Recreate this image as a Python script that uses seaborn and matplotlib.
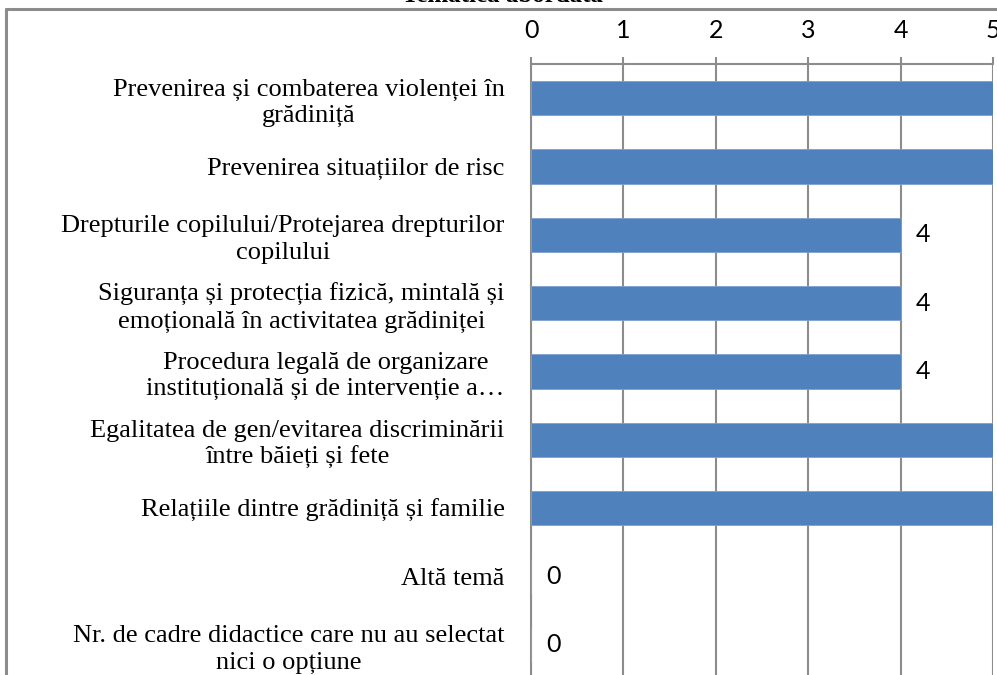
import matplotlib
matplotlib.use("Agg")
import matplotlib.pyplot as plt
import seaborn as sns
import pandas as pd
import numpy as np

categories = [
    "Prevenirea și combaterea violenței în\ngrădiniță",
    "Prevenirea situațiilor de risc",
    "Drepturile copilului/Protejarea drepturilor\ncopilului",
    "Siguranța și protecția fizică, mintală și\nemoțională în activitatea grădiniței",
    "Procedura legală de organizare\ninstituțională și de intervenție a…",
    "Egalitatea de gen/evitarea discriminării\nîntre băieți și fete",
    "Relațiile dintre grădiniță și familie",
    "Altă temă",
    "Nr. de cadre didactice care nu au selectat\nnici o opțiune",
]
values = [5, 5, 4, 4, 4, 5, 5, 0, 0]
x_ticks = [0, 1, 2, 3, 4, 5]
title = "Tematica abordată"

sns.set_style("white")
plt.rcParams["font.family"] = ["Liberation Serif", "DejaVu Serif"]
plt.rcParams["text.color"] = "black"
plt.rcParams["xtick.labelcolor"] = "black"
plt.rcParams["ytick.labelcolor"] = "black"

df = pd.DataFrame({"tema": categories, "nr": values})

W, H = 997, 675
fig = plt.figure(figsize=(W / 100, H / 100), dpi=100)

ax_l, ax_r, ax_t, ax_b = 531, 993, 64, 679
ax = fig.add_axes([ax_l / W, 1 - ax_b / H, (ax_r - ax_l) / W, (ax_b - ax_t) / H])

sns.barplot(data=df, y="tema", x="nr", orient="h", color="#4F81BD",
            width=0.5, saturation=1, ax=ax, edgecolor="#7EA1CF", linewidth=0.6,
            zorder=3)

grid_c = "#8C8C8C"
ax.set_xlim(0, 5)
ax.set_ylim(len(categories) - 0.5, -0.5)
ax.set_xticks(x_ticks)
ax.xaxis.tick_top()
ax.set_xlabel("")
ax.set_ylabel("")
ax.grid(axis="x", color=grid_c, linewidth=1.5, zorder=0)
ax.set_axisbelow(True)

for s in ["right", "bottom"]:
    ax.spines[s].set_visible(False)
for s in ["left", "top"]:
    ax.spines[s].set_color(grid_c)
    ax.spines[s].set_linewidth(1.5)

ax.tick_params(axis="x", which="major", top=True, bottom=False, length=5,
               width=1.5, color=grid_c, pad=11, labelsize=18, labelcolor="black")
for lbl in ax.get_xticklabels():
    lbl.set_fontfamily(["Lato", "DejaVu Sans"])

ax.set_yticks(np.arange(len(categories)))
ax.set_yticklabels(categories, fontsize=19, multialignment="center", color="black",
                   linespacing=1.25)
ax.tick_params(axis="y", which="major", length=0, pad=19)
ax.set_yticks(np.arange(-0.5, len(categories)), minor=True)
ax.tick_params(axis="y", which="minor", length=6, width=1.5, color=grid_c)

for i, v in enumerate(values):
    ax.annotate(str(v), xy=(v, i), xytext=(11, 0), textcoords="offset points",
                va="center", ha="left", fontsize=18, family=["Lato", "DejaVu Sans"],
                color="black", annotation_clip=False)

# outer chart frame (partially visible)
fig.add_artist(plt.Line2D([6 / W, 6 / W], [0, 1 - 9 / H], color="#8C8C8C", linewidth=2.2,
                          transform=fig.transFigure))
fig.add_artist(plt.Line2D([6 / W, 1], [1 - 9 / H, 1 - 9 / H], color="#8C8C8C", linewidth=2.2,
                          transform=fig.transFigure))

fig.text(502 / W, 1 - 2 / H, title, ha="center", va="baseline", fontsize=18,
         fontweight="bold", color="black")

fig.savefig("out.png", dpi=100)
